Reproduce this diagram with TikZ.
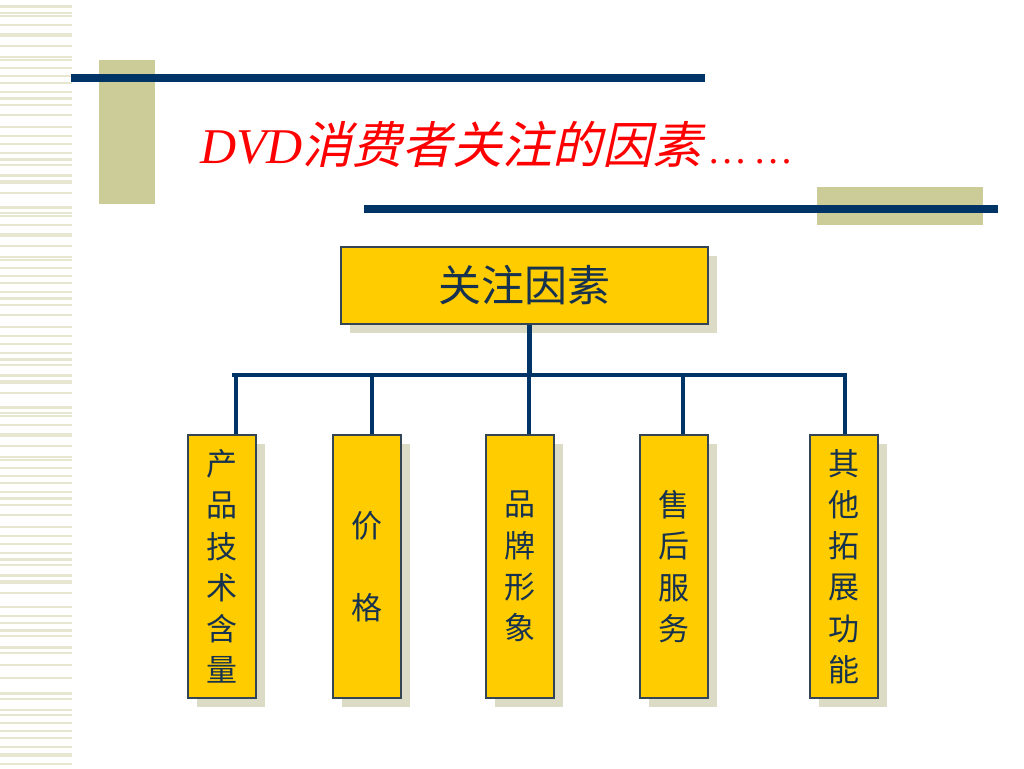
\documentclass[tikz,border=0pt]{standalone}
\usepackage{fontspec}
\setmainfont{Liberation Serif}
\newfontfamily\cjk{Noto Sans CJK SC}
\newfontfamily\cjki[FakeSlant=0.22]{Noto Sans CJK SC}
\usetikzlibrary{shadows}
\definecolor{navy}{HTML}{003366}
\definecolor{tan}{HTML}{CCCC99}
\definecolor{boxy}{HTML}{FFCC00}
\definecolor{boxline}{HTML}{334455}
\definecolor{shadowc}{HTML}{DCDCC6}
\definecolor{txt}{HTML}{16324F}
\definecolor{stripe}{HTML}{E7E7D1}
\definecolor{titlered}{HTML}{FF0000}
\tikzset{
  orgbox/.style={draw=boxline, line width=1.2pt, fill=boxy, inner sep=0pt,
    general shadow={fill=shadowc, shadow xshift=9pt, shadow yshift=-9pt},
    text=txt},
  topbox/.style={orgbox, minimum width=367pt, minimum height=77pt,
    font=\cjk\fontsize{43}{50}\selectfont},
  childbox/.style={orgbox, minimum width=68pt, minimum height=263pt, align=center,
    font=\cjk\fontsize{31}{41.3}\selectfont},
  link/.style={draw=navy, line width=4pt},
  trunk/.style={draw=navy, line width=5pt},
  bar/.style={fill=navy},
  tanblock/.style={fill=tan},
}
\begin{document}
\begin{tikzpicture}[x=1pt,y=-1pt]
\useasboundingbox (0,0) rectangle (1024,768);
\fill[white] (0,0) rectangle (1024,768);
% left stripes
\foreach \off in {0,200,400}{
  \foreach \yy/\hh in {7/3,13/1.5,16/1.5,25/1.5,35/3.5,46/1.5,57/1.5,60/1.5,68/1.5,76/1.5,83/1.5,92/1.5,98/3,105/1.5,115/1.5,127/1.5,136/2,144/2,153/1.5,159/3,165/1.5,175/3,181/1.5,183/1.5,193/1.5}{
    \fill[stripe] (0,\off+\yy-\hh/2) rectangle (72,\off+\yy+\hh/2);
  }
}
\foreach \yy/\hh in {607/2,616/1.5,623/1.5,630/3,636/1.5,647/3,653/1.5,665/1.5,678/1.5,693/3,699/1.5,710/1.5,715/1.5,723/1.5,731/2,738/1.5,747/1.5,755/3.5,764/1.5}{
  \fill[stripe] (0,\yy-\hh/2) rectangle (72,\yy+\hh/2);
}
% decorative bars
\fill[tanblock] (99,60) rectangle (155,204);
\fill[bar] (71,74) rectangle (705,82);
\fill[tanblock] (817,187) rectangle (983,225);
\fill[bar] (364,205) rectangle (998,213);
% title
\node[anchor=base west, inner sep=0pt, text=titlered] (title) at (200,163)
  {\fontsize{50}{60}\selectfont\itshape DVD{\cjki 消费者关注的因素}\hspace{8pt}{\fontsize{40}{48}\selectfont …\hspace{10pt}…}};
% boxes
\node[topbox] (top) at (524.5,285.5) {关注因素};
\node[childbox] (c1) at (222,566.5) {产\\品\\技\\术\\含\\量};
\node[childbox] (c2) at (367,566.5) {价\\[41.3pt]格};
\node[childbox] (c3) at (520,566.5) {品\\牌\\形\\象};
\node[childbox] (c4) at (674,566.5) {售\\后\\服\\务};
\node[childbox] (c5) at (844,566.5) {其\\他\\拓\\展\\功\\能};
% connectors
\coordinate (hub) at (529,375);
\coordinate (hl) at (232,375);
\coordinate (hr) at (847,375);
\coordinate (d1) at (236,375);
\coordinate (d2) at (372,375);
\coordinate (d3) at (529,375);
\coordinate (d4) at (683,375);
\coordinate (d5) at (845,375);
\draw[trunk] (top.south -| hub) -- (hub);
\draw[link] (hl) -- (hr);
\foreach \i in {1,...,5}{
  \draw[link] (d\i) -- (c\i.north -| d\i);
}
\end{tikzpicture}
\end{document}
